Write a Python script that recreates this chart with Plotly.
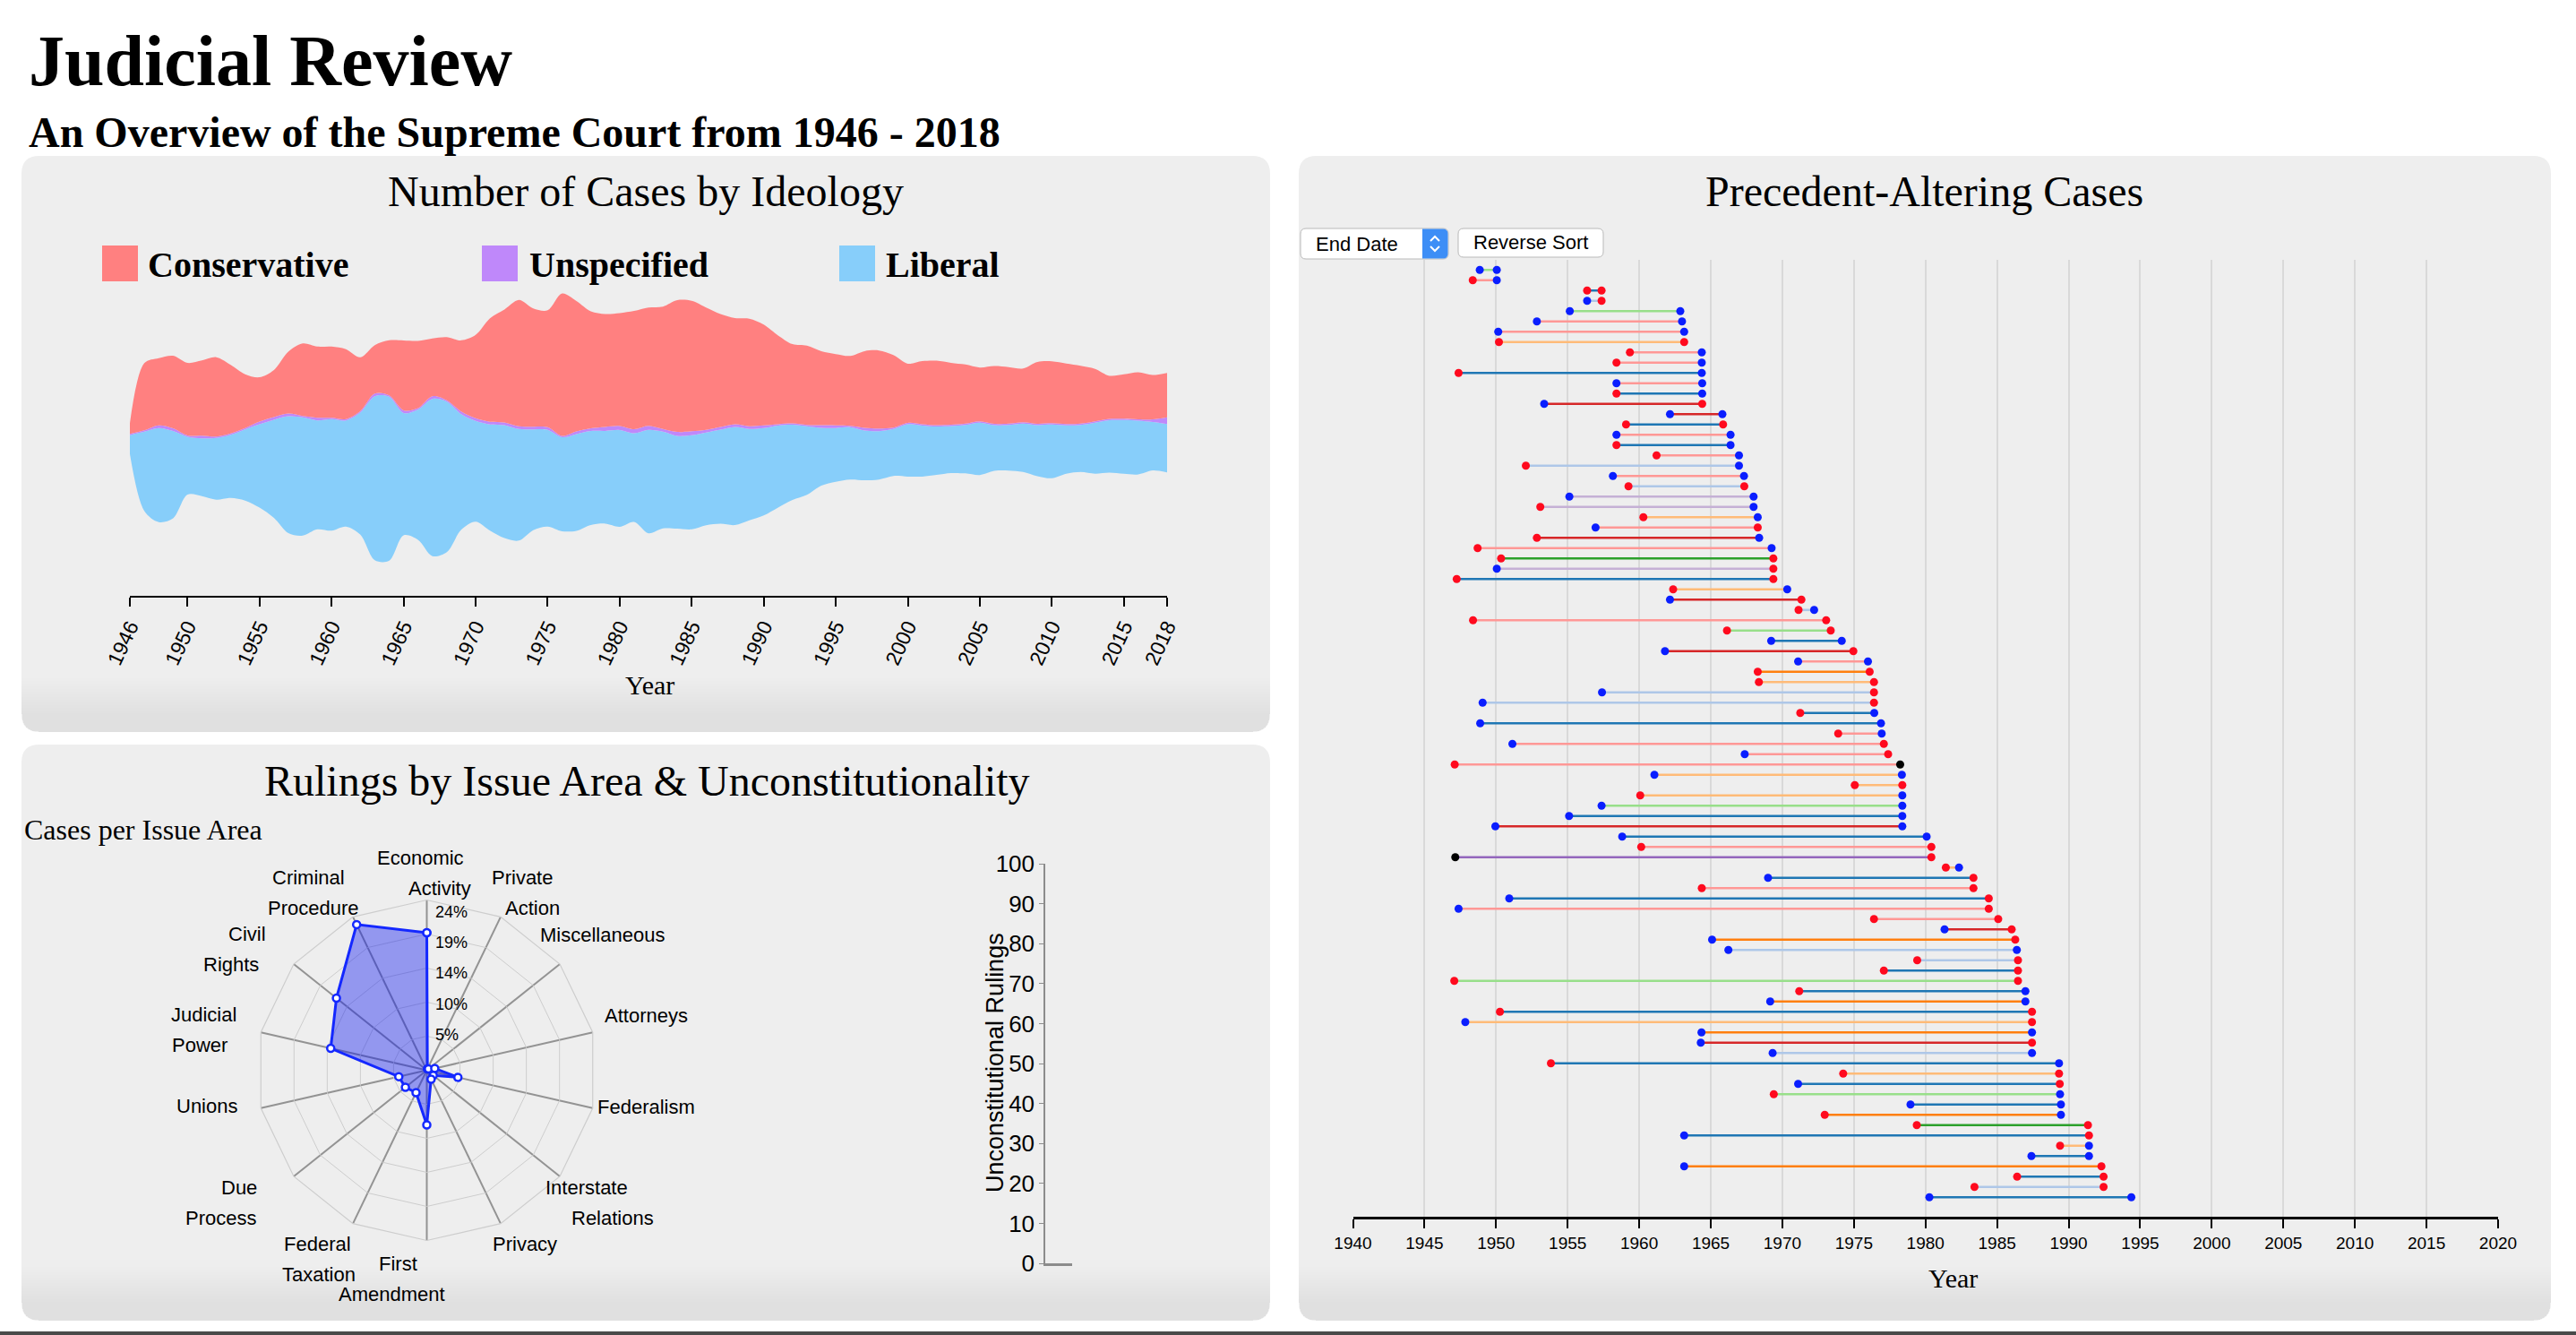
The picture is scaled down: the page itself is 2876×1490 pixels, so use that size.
import math
import plotly.graph_objects as go

W, H = 2876, 1490


def px(x):
    return x / W


def py(y):
    return 1 - y / H


# ---------------- data ----------------
YEARS = list(range(1946, 2019))
CONSERVATIVE = [8, 50, 50, 54, 54, 56, 59, 51, 40, 33,
                35, 46, 54, 53, 53, 52, 40, 36, 41, 52,
                50, 43, 47, 53, 62, 77, 84, 94, 88, 87,
                106, 97, 87, 84, 84, 88, 88, 91, 98, 97,
                91, 84, 79, 80, 75, 66, 59, 59, 55, 53,
                52, 57, 58, 54, 44, 47, 48, 46, 44, 40,
                43, 42, 40, 46, 46, 45, 43, 39, 32, 33,
                35, 33, 33]
UNSPECIFIED = [1, 1, 2, 2, 1, 2, 1, 1, 1, 2,
               2, 2, 1, 2, 1, 1, 1, 2, 1, 2,
               1, 2, 1, 2, 2, 2, 2, 2, 2, 2,
               1, 2, 2, 3, 3, 3, 3, 2, 3, 3,
               2, 2, 2, 2, 2, 1, 1, 1, 2, 2,
               1, 2, 2, 1, 1, 1, 1, 1, 1, 1,
               1, 1, 1, 1, 1, 1, 1, 1, 1, 1,
               1, 2, 5]
LIBERAL = [14, 59, 70, 65, 43, 43, 46, 47, 53, 62,
           73, 87, 88, 81, 83, 79, 91, 122, 122, 91,
           97, 117, 112, 86, 75, 79, 84, 83, 75, 72,
           70, 72, 70, 69, 72, 66, 77, 72, 69, 70,
           69, 70, 73, 68, 65, 61, 56, 51, 43, 40,
           39, 37, 36, 35, 39, 38, 36, 35, 36, 39,
           34, 34, 36, 38, 40, 36, 35, 38, 39, 40,
           40, 36, 36]
STREAM_TICKS = [1946, 1950, 1955, 1960, 1965, 1970, 1975, 1980, 1985, 1990,
                1995, 2000, 2005, 2010, 2015, 2018]

ISSUE_AREAS = ["Economic Activity", "Private Action", "Miscellaneous", "Attorneys",
               "Federalism", "Interstate Relations", "Privacy", "First Amendment",
               "Federal Taxation", "Due Process", "Unions", "Judicial Power",
               "Civil Rights", "Criminal Procedure"]
ISSUE_SHARE = [0.194, 0.002, 0.003, 0.0115, 0.045, 0.0116, 0.014, 0.077,
               0.035, 0.0386, 0.0405, 0.139, 0.163, 0.228]
RADAR_MAX = 0.24
RADAR_TICKS = [0.048, 0.096, 0.144, 0.192, 0.24]
RADAR_TICK_TEXT = ["5%", "10%", "14%", "19%", "24%"]

UNCONST_TICKS = list(range(0, 101, 10))

CASE_START = [1948.86, 1948.37, 1956.36, 1956.36, 1955.15, 1952.85, 1950.15, 1950.20, 1959.35, 1958.41,
              1947.38, 1958.41, 1958.41, 1953.36, 1962.15, 1959.08, 1958.41, 1958.41, 1961.21, 1952.08,
              1958.16, 1959.25, 1955.12, 1953.09, 1960.29, 1956.95, 1952.85, 1948.71, 1950.35, 1950.05,
              1947.25, 1962.37, 1962.15, 1971.13, 1948.39, 1966.13, 1969.22, 1961.80, 1971.10, 1968.28,
              1968.36, 1957.40, 1949.06, 1971.25, 1948.89, 1973.90, 1951.14, 1967.37, 1947.11, 1961.06,
              1975.06, 1960.07, 1957.37, 1955.10, 1949.95, 1958.81, 1960.14, 1947.15, 1981.42, 1969.00,
              1964.37, 1950.92, 1947.38, 1976.40, 1981.33, 1965.09, 1966.23, 1979.42, 1977.09, 1947.08,
              1971.18, 1969.15, 1950.27, 1947.85, 1964.35, 1964.30, 1969.32, 1953.83, 1974.25, 1971.10,
              1969.40, 1978.95, 1972.96, 1979.39, 1963.14, 1989.40, 1987.40, 1963.14, 1986.40, 1983.42,
              1980.27]
CASE_END = [1950.05, 1950.05, 1957.37, 1957.37, 1962.87, 1962.99, 1963.14, 1963.14, 1964.37, 1964.37,
            1964.37, 1964.40, 1964.40, 1964.40, 1965.81, 1965.86, 1966.38, 1966.38, 1966.97, 1966.97,
            1967.32, 1967.34, 1967.99, 1967.99, 1968.28, 1968.28, 1968.38, 1969.25, 1969.37, 1969.37,
            1969.37, 1970.34, 1971.33, 1972.22, 1973.06, 1973.38, 1974.15, 1974.96, 1975.98, 1976.10,
            1976.40, 1976.40, 1976.40, 1976.42, 1976.89, 1976.94, 1977.09, 1977.39, 1978.23, 1978.35,
            1978.38, 1978.38, 1978.38, 1978.38, 1978.38, 1980.08, 1980.41, 1980.41, 1982.34, 1983.35,
            1983.35, 1984.42, 1984.42, 1985.08, 1986.02, 1986.27, 1986.38, 1986.46, 1986.46, 1986.46,
            1986.98, 1986.98, 1987.44, 1987.44, 1987.44, 1987.44, 1987.44, 1989.33, 1989.33, 1989.38,
            1989.40, 1989.46, 1989.46, 1991.35, 1991.42, 1991.42, 1991.42, 1992.29, 1992.44, 1992.44,
            1994.38]
# C = conservative, L = liberal, U = unspecified
START_DIR = ['L', 'C', 'C', 'L', 'L', 'L', 'L', 'C', 'C', 'C',
             'C', 'L', 'C', 'L', 'L', 'C', 'L', 'C', 'C', 'C',
             'L', 'C', 'L', 'C', 'C', 'L', 'C', 'C', 'C', 'L',
             'C', 'C', 'L', 'C', 'C', 'C', 'L', 'L', 'L', 'C',
             'C', 'L', 'L', 'C', 'L', 'C', 'L', 'L', 'C', 'L',
             'C', 'C', 'L', 'L', 'L', 'L', 'C', 'U', 'C', 'L',
             'C', 'L', 'L', 'C', 'L', 'L', 'L', 'C', 'C', 'C',
             'C', 'L', 'C', 'L', 'L', 'L', 'L', 'C', 'C', 'L',
             'C', 'L', 'C', 'C', 'L', 'C', 'L', 'L', 'C', 'C',
             'L']
END_DIR = ['L', 'L', 'C', 'C', 'L', 'L', 'L', 'C', 'L', 'L',
           'L', 'L', 'L', 'C', 'L', 'C', 'L', 'L', 'L', 'L',
           'L', 'C', 'L', 'L', 'L', 'C', 'L', 'L', 'C', 'C',
           'C', 'L', 'C', 'L', 'C', 'C', 'L', 'C', 'L', 'C',
           'C', 'C', 'C', 'L', 'L', 'L', 'C', 'C', 'U', 'L',
           'C', 'L', 'L', 'L', 'L', 'L', 'C', 'C', 'L', 'C',
           'C', 'C', 'C', 'C', 'C', 'C', 'L', 'C', 'C', 'C',
           'L', 'L', 'C', 'C', 'L', 'C', 'L', 'L', 'C', 'C',
           'L', 'L', 'L', 'C', 'C', 'L', 'L', 'C', 'C', 'C',
           'L']
LINE_GROUP = [5, 7, 0, 1, 5, 7, 7, 3, 7, 7,
              0, 7, 0, 6, 6, 0, 7, 0, 7, 1,
              7, 1, 9, 9, 3, 7, 6, 7, 4, 9,
              0, 3, 6, 1, 7, 5, 0, 6, 7, 2,
              3, 1, 1, 0, 0, 7, 7, 7, 7, 3,
              3, 3, 5, 0, 6, 0, 7, 8, 3, 0,
              7, 0, 7, 7, 6, 2, 1, 1, 0, 5,
              0, 2, 0, 3, 2, 6, 1, 0, 3, 0,
              5, 0, 2, 4, 0, 3, 0, 2, 0, 1,
              0]

# ---------------- styles ----------------
SERIF = "Liberation Serif, Times New Roman, serif"
SANS = "Liberation Sans, Arial, Helvetica, sans-serif"
PANEL = "#eeeeee"
C_CON = "#ff8080"
C_UNS = "#bf88fa"
C_LIB = "#87cefa"
CAT20 = ["#1f77b4", "#aec7e8", "#ff7f0e", "#ffbb78", "#2ca02c",
         "#98df8a", "#d62728", "#ff9896", "#9467bd", "#c5b0d5"]
DOT = {'C': "#ff0a1e", 'L': "#0a1eff", 'U': "#000000"}


def wiggle(layers):
    """d3.stackOffsetWiggle baseline for layers ordered bottom -> top."""
    n, m = len(layers), len(layers[0])
    base = [0.0] * m
    y = 0.0
    for j in range(1, m):
        s1 = s2 = 0.0
        for i in range(n):
            sij0, sij1 = layers[i][j], layers[i][j - 1]
            s3 = (sij0 - sij1) / 2
            for k in range(i):
                s3 += layers[k][j] - layers[k][j - 1]
            s1 += sij0
            s2 += s3 * sij0
        if s1:
            y -= s2 / s1
        base[j] = y
    return base


fig = go.Figure()

# ---------------- streamgraph ----------------
base = wiggle([LIBERAL, UNSPECIFIED, CONSERVATIVE])
lib_top = [b + v for b, v in zip(base, LIBERAL)]
uns_top = [b + v for b, v in zip(lib_top, UNSPECIFIED)]
con_top = [b + v for b, v in zip(uns_top, CONSERVATIVE)]
spl = dict(width=0, shape="spline", smoothing=0.9)
fig.add_trace(go.Scatter(x=YEARS, y=base, mode="lines", line=dict(spl, color=C_LIB),
                         hoverinfo="skip", xaxis="x", yaxis="y"))
for top, col in [(lib_top, C_LIB), (uns_top, C_UNS), (con_top, C_CON)]:
    fig.add_trace(go.Scatter(x=YEARS, y=top, mode="lines", line=dict(spl, color=col),
                             fill="tonexty", fillcolor=col, hoverinfo="skip",
                             xaxis="x", yaxis="y"))

PX_PER_CASE = 1.5
top_px, axis_px, peak_px = 300, 665, 327.5
ymax = max(con_top) + (peak_px - top_px) / PX_PER_CASE
ymin = ymax - (axis_px - top_px) / PX_PER_CASE

# ---------------- radar ----------------
fig.add_trace(go.Scatterpolar(
    r=ISSUE_SHARE + ISSUE_SHARE[:1], theta=ISSUE_AREAS + ISSUE_AREAS[:1],
    mode="lines+markers", fill="toself", fillcolor="rgba(10,20,240,0.40)",
    line=dict(color="#1428ff", width=3),
    marker=dict(size=8, color="white", line=dict(color="#1428ff", width=2.5)),
    hoverinfo="skip", subplot="polar"))

# ---------------- unconstitutional axis (empty bars) ----------------
fig.add_trace(go.Scatter(x=[None], y=[None], mode="markers", xaxis="x2", yaxis="y2",
                         hoverinfo="skip"))

# ---------------- precedent-altering cases ----------------
rows = list(range(1, len(CASE_START) + 1))
for g, col in enumerate(CAT20):
    xs, ys = [], []
    for r, s, e, lg in zip(rows, CASE_START, CASE_END, LINE_GROUP):
        if lg == g:
            xs += [s, e, None]
            ys += [r, r, None]
    if xs:
        fig.add_trace(go.Scatter(x=xs, y=ys, mode="lines", line=dict(color=col, width=2.6),
                                 hoverinfo="skip", xaxis="x3", yaxis="y3"))
for d, col in DOT.items():
    xs, ys = [], []
    for r, s, e, sd, ed in zip(rows, CASE_START, CASE_END, START_DIR, END_DIR):
        if sd == d:
            xs.append(s); ys.append(r)
        if ed == d:
            xs.append(e); ys.append(r)
    fig.add_trace(go.Scatter(x=xs, y=ys, mode="markers", marker=dict(size=9, color=col),
                             hoverinfo="skip", xaxis="x3", yaxis="y3", cliponaxis=False))

ROW_PX = 11.5
y3_top, y3_bot, row1_px = 290, 1358, 301.3
y3_min = 1 - (row1_px - y3_top) / ROW_PX
y3_max = y3_min + (y3_bot - y3_top) / ROW_PX


# ---------------- shapes ----------------
def rrect(x0, y0, x1, y1, r, fill, line=None, lw=0):
    p = (f"M {px(x0 + r)},{py(y0)} L {px(x1 - r)},{py(y0)} Q {px(x1)},{py(y0)} {px(x1)},{py(y0 + r)} "
         f"L {px(x1)},{py(y1 - r)} Q {px(x1)},{py(y1)} {px(x1 - r)},{py(y1)} "
         f"L {px(x0 + r)},{py(y1)} Q {px(x0)},{py(y1)} {px(x0)},{py(y1 - r)} "
         f"L {px(x0)},{py(y0 + r)} Q {px(x0)},{py(y0)} {px(x0 + r)},{py(y0)} Z")
    return dict(type="path", path=p, xref="paper", yref="paper", fillcolor=fill,
                line=dict(color=line or fill, width=lw), layer="below")


def bottom_band(x0, x1, y1, h, r, fill):
    # band at the bottom of a panel, square on top, rounded bottom corners
    p = (f"M {px(x0)},{py(y1 - h)} L {px(x1)},{py(y1 - h)} "
         f"L {px(x1)},{py(y1 - r)} Q {px(x1)},{py(y1)} {px(x1 - r)},{py(y1)} "
         f"L {px(x0 + r)},{py(y1)} Q {px(x0)},{py(y1)} {px(x0)},{py(y1 - r)} Z")
    return dict(type="path", path=p, xref="paper", yref="paper", fillcolor=fill,
                line=dict(width=0), layer="below")


PANELS = [(24, 174, 1418, 817), (24, 831, 1418, 1474), (1450, 174, 2848, 1474)]
shapes = []
for (x0, y0, x1, y1) in PANELS:
    shapes.append(rrect(x0, y0, x1, y1, 20, PANEL))
    for h in range(60, 20, -3):
        shapes.append(bottom_band(x0, x1, y1, h, 20, "rgba(0,0,0,0.0035)"))
# thin dark edge at the very bottom of the page
shapes.append(dict(type="rect", xref="paper", yref="paper", x0=0, x1=1,
                   y0=py(1490), y1=py(1486), fillcolor="#4a4a4a", line=dict(width=0),
                   layer="below"))
# legend swatches
for x0, col in [(114, C_CON), (538, C_UNS), (937, C_LIB)]:
    shapes.append(dict(type="rect", xref="paper", yref="paper", x0=px(x0), x1=px(x0 + 40),
                       y0=py(314), y1=py(274), fillcolor=col, line=dict(width=0)))
# controls
dd = rrect(1452, 255, 1617, 289, 6, "white", "#b9b9b9", 1)
dd["layer"] = "above"
shapes.append(dd)
shapes.append(dict(type="path", xref="paper", yref="paper", layer="above",
                   path=(f"M {px(1588)},{py(255.5)} L {px(1611)},{py(255.5)} Q {px(1616.5)},{py(255.5)} "
                         f"{px(1616.5)},{py(261)} L {px(1616.5)},{py(283)} Q {px(1616.5)},{py(288.5)} "
                         f"{px(1611)},{py(288.5)} L {px(1588)},{py(288.5)} Z"),
                   fillcolor="#3d8ef6", line=dict(width=0)))
for pth in [f"M {px(1597)},{py(269)} L {px(1602)},{py(264)} L {px(1607)},{py(269)}",
            f"M {px(1597)},{py(275)} L {px(1602)},{py(280)} L {px(1607)},{py(275)}"]:
    shapes.append(dict(type="path", xref="paper", yref="paper", layer="above", path=pth,
                       line=dict(color="white", width=2)))
bt = rrect(1628, 255, 1790, 287, 6, "white", "#b9b9b9", 1)
bt["layer"] = "above"
shapes.append(bt)

# ---------------- annotations ----------------
ann = []


def text(x, y, s, size, family=SERIF, xanchor="center", yanchor="middle", angle=0, color="black"):
    ann.append(dict(x=px(x), y=py(y), xref="paper", yref="paper", text=s, showarrow=False,
                    xanchor=xanchor, yanchor=yanchor, textangle=angle,
                    font=dict(family=family, size=size, color=color)))


text(30, 68, "<b>Judicial Review</b>", 80, xanchor="left")
text(30, 148, "<b>An Overview of the Supreme Court from 1946 - 2018</b>", 48, xanchor="left")
text(721, 214, "Number of Cases by Ideology", 48)
text(722, 871, "Rulings by Issue Area &amp; Unconstitutionality", 48)
text(2148, 214, "Precedent-Altering Cases", 48)
text(163, 296, "<b>Conservative</b>", 40, xanchor="left")
text(589, 296, "<b>Unspecified</b>", 40, xanchor="left")
text(987, 296, "<b>Liberal</b>", 40, xanchor="left")
text(725, 764, "Year", 30)
text(2180, 1426, "Year", 30)
text(25, 926, "Cases per Issue Area", 32, xanchor="left")
text(1111, 1186, "Unconstitutional Rulings", 27, family=SANS, angle=-90)
text(1467, 272, "End Date", 22, family=SANS, xanchor="left")
text(1709, 271, "Reverse Sort", 22, family=SANS)

# radar axis labels: anchor at 1.25 R, per-label nudges (dx1, dy1, dx2)
CX, CY, R = 476.5, 1194.5, 190
NUDGE = {
    "Economic Activity": (-7, 0, 21), "Private Action": (3, -1, 12),
    "Miscellaneous": (10, -3, 0), "Attorneys": (13, -8, 0), "Federalism": (13, -12, 0),
    "Interstate Relations": (-7, -17, 29), "Privacy": (6, -20, 0),
    "First Amendment": (-32, -22, -7), "Federal Taxation": (-19, -20, 2),
    "Due Process": (-24, -17, -20), "Unions": (-14, -13, 0), "Judicial Power": (-17, -9, -5),
    "Civil Rights": (-15, -4, -18), "Criminal Procedure": (-29, -1, 6),
}
for k, name in enumerate(ISSUE_AREAS):
    th = math.radians(k * 360 / len(ISSUE_AREAS))
    ax, ay = CX + 1.25 * R * math.sin(th), CY - 1.25 * R * math.cos(th)
    dx1, dy1, dx2 = NUDGE[name]
    words = name.split(" ")
    text(ax + dx1, ay + dy1, words[0], 22, family=SANS)
    if len(words) > 1:
        text(ax + dx1 + dx2, ay + dy1 + 34, " ".join(words[1:]), 22, family=SANS)
# radar level labels, stacked just right of the top spoke
for j, lab in enumerate(RADAR_TICK_TEXT, start=1):
    text(CX + 7, CY - 5 - 34.4 * j, lab, 18, family=SANS, xanchor="left")

fig.update_layout(
    width=W, height=H, margin=dict(l=0, r=0, t=0, b=0, pad=0, autoexpand=False),
    paper_bgcolor="white", plot_bgcolor="rgba(0,0,0,0)", showlegend=False,
    shapes=shapes, annotations=ann,
    xaxis=dict(domain=[px(145), px(1303)], range=[1946, 2018], tickvals=STREAM_TICKS,
               ticks="outside", ticklen=10, tickwidth=2, tickcolor="black",
               showline=True, linecolor="black", linewidth=2, showgrid=False, zeroline=False,
               tickangle=-65, tickfont=dict(family=SANS, size=23, color="black"),
               anchor="y", automargin=False),
    yaxis=dict(domain=[py(axis_px), py(top_px)], range=[ymin, ymax], visible=False,
               showgrid=False, zeroline=False, anchor="x", automargin=False),
    polar=dict(
        domain=dict(x=[px(CX - R), px(CX + R)], y=[py(CY + R), py(CY - R)]),
        bgcolor="rgba(0,0,0,0)", gridshape="linear",
        radialaxis=dict(range=[0, RADAR_MAX], tickvals=RADAR_TICKS, showticklabels=False,
                        angle=90, showline=False, ticks="",
                        gridcolor="#cdcdcd", gridwidth=1.2),
        angularaxis=dict(direction="clockwise", rotation=90, showticklabels=False, ticks="",
                         gridcolor="#939393", gridwidth=1.5, showline=True,
                         linecolor="#cdcdcd", linewidth=1.2),
    ),
    xaxis2=dict(domain=[px(1167), px(1197)], range=[0, 1], showticklabels=False, ticks="",
                showline=True, linecolor="#8c8c8c", linewidth=2.5, showgrid=False,
                zeroline=False, anchor="y2", automargin=False),
    yaxis2=dict(domain=[py(1410), py(964)], range=[0, 100], tickvals=UNCONST_TICKS,
                ticks="outside", ticklen=5, tickcolor="#8c8c8c", showline=True,
                linecolor="#8c8c8c", linewidth=1.5, showgrid=False, zeroline=False,
                tickfont=dict(family=SANS, size=26, color="black"), anchor="x2",
                automargin=False),
    xaxis3=dict(domain=[px(1510.5), px(2789)], range=[1940, 2020], tick0=1940, dtick=5,
                ticks="outside", ticklen=10, tickwidth=2, tickcolor="black",
                showline=True, linecolor="black", linewidth=2.5,
                showgrid=True, gridcolor="#d9d9d9", gridwidth=2, zeroline=False,
                tickfont=dict(family=SANS, size=19, color="black"), anchor="y3",
                automargin=False),
    yaxis3=dict(domain=[py(y3_bot), py(y3_top)], range=[y3_max, y3_min], visible=False,
                showgrid=False, zeroline=False, anchor="x3", automargin=False),
)

fig.write_html("out.html")
